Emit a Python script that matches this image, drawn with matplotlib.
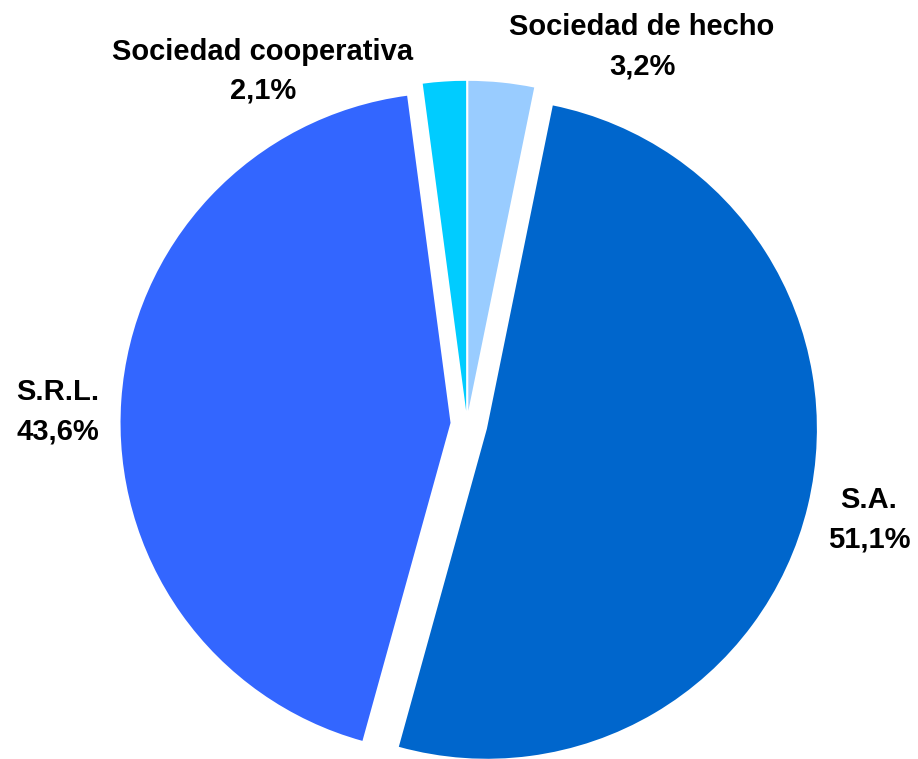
import matplotlib
matplotlib.use("Agg")
import matplotlib.pyplot as plt

categories = ["Sociedad de hecho", "S.A.", "S.R.L.", "Sociedad cooperativa"]
values = [3.2, 51.1, 43.6, 2.1]
pct_labels = ["3,2%", "51,1%", "43,6%", "2,1%"]
colors = ["#99CCFF", "#0066CC", "#3366FF", "#00CCFF"]
explode = [0.04, 0.062, 0.05, 0.04]

W, H = 918, 759
cx, cy, R = 467, 424, 330

fig = plt.figure(figsize=(W / 100, H / 100), dpi=100)
ax = fig.add_axes([0, 0, 1, 1])
ax.pie(values, colors=colors, explode=explode, startangle=90, counterclock=False,
       radius=1, wedgeprops=dict(linewidth=0))
ax.set_xlim(-cx / R, (W - cx) / R)
ax.set_ylim(-(H - cy) / R, cy / R)
ax.set_aspect("auto")
ax.axis("off")

label_pos = [(642, 47), (869, 520), (58, 412), (263, 71)]
for name, pct, (px, py) in zip(categories, pct_labels, label_pos):
    ax.text((px - cx) / R, (cy - py) / R, f"{name}\n{pct}", ha="center", va="center",
            fontsize=21, fontweight="bold", family="Liberation Sans",
            color="#000000", linespacing=1.5)

fig.savefig("out.png", dpi=100, facecolor="white")
